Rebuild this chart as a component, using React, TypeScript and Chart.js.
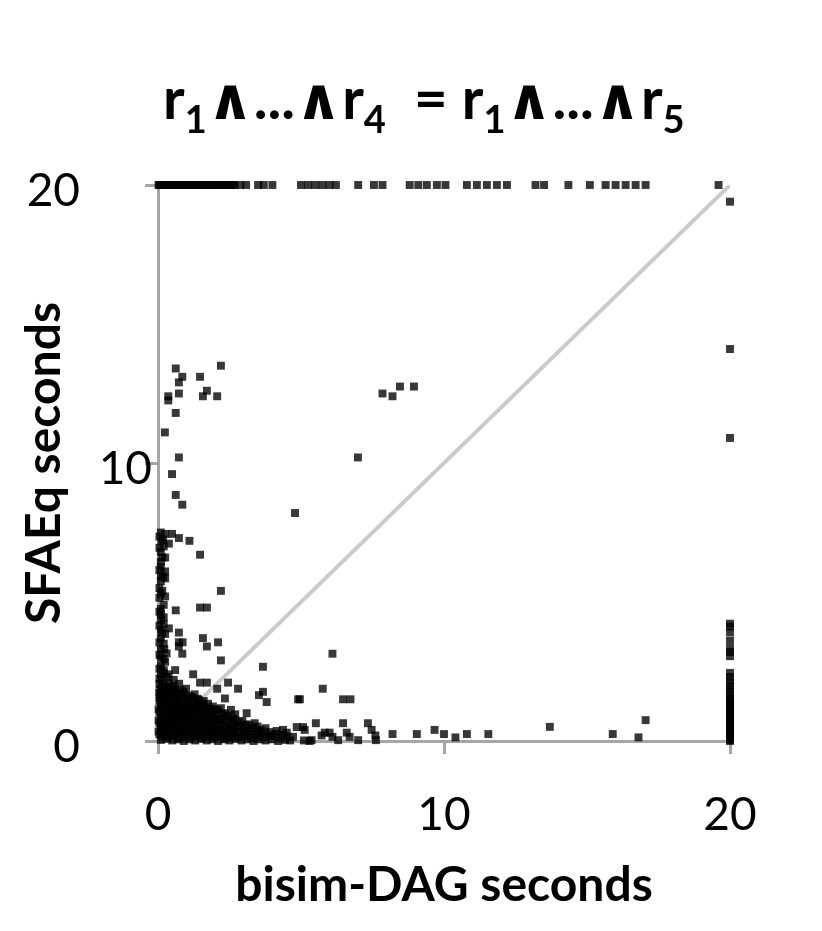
import { useEffect, useRef } from 'react';
import { Chart, registerables } from 'chart.js';

Chart.register(...registerables);

const FONT = "Lato, 'DejaVu Sans', sans-serif";

// Title with subscripts: [text, isSubscript]
const titleParts: [string, boolean][] = [
  ['r', false], ['1', true], ['∧...∧r', false], ['4', true],
  ['  = r', false], ['1', true], ['∧...∧r', false], ['5', true],
];

const xTitle = 'bisim-DAG seconds';
const yTitle = 'SFAEq seconds';
const xTicks = [0, 10, 20];
const yTicks = [0, 10, 20];
const diagonal: [number, number][] = [[0, 0], [20, 20]];

// SFAEq timed out (20 s): bisim-DAG seconds
const topRowX = [
  0.02, 0.1, 0.2, 0.3, 0.35, 0.45, 0.5, 0.6, 0.7, 0.8, 0.85, 0.95, 1.0, 1.1, 1.2, 1.25, 1.3,
  1.4, 1.5, 1.55, 1.65, 1.75, 1.8, 1.9, 2.0, 2.05, 2.15, 2.2, 2.3, 2.4, 2.45, 2.55, 2.62,
  0.05, 0.25, 0.55, 0.75, 1.05, 1.35, 1.6, 1.95, 2.25, 2.5, 2.68,
  2.88, 3.08, 3.5, 3.7, 4.0, 5.0, 5.25, 5.5, 5.75, 6.0, 6.22, 7.0, 7.55, 7.85,
  8.8, 9.1, 9.4, 9.75, 10.05, 10.8, 11.15, 11.5, 11.85, 12.2, 13.2, 13.5, 14.35,
  15.1, 15.65, 16.0, 16.35, 16.7, 17.05, 19.6,
];

// bisim-DAG timed out (20 s): SFAEq seconds
const rightColY = [
  0.0, 0.08, 0.2, 0.3, 0.42, 0.55, 0.65, 0.78, 0.9, 1.02, 1.15, 1.28, 1.4, 1.52, 1.62,
  1.75, 1.88, 2.0, 2.15, 2.3, 2.45, 3.05, 3.2, 3.32, 3.6, 3.9, 4.12, 4.22,
  0.04, 0.14, 0.25, 0.36, 0.48, 0.6, 0.72, 0.85, 0.96, 1.08, 1.22, 1.34, 1.46,
  10.9, 14.1, 19.4,
];

const upperLeft: [number, number][] = [
  [0.62, 13.4], [2.2, 13.5], [0.85, 13.1], [1.47, 13.1], [0.73, 12.9], [1.71, 12.6],
  [0.36, 12.4], [0.73, 12.5], [1.57, 12.4], [2.07, 12.4], [0.36, 12.25], [0.62, 11.8],
  [0.24, 11.1], [0.73, 10.2], [0.49, 9.6], [0.62, 8.85], [0.85, 8.5],
];

const middle: [number, number][] = [
  [4.79, 8.2], [6.99, 10.2], [7.85, 12.5], [8.46, 12.75], [8.95, 12.75], [8.2, 12.4],
  [6.1, 3.14], [5.76, 1.88], [6.47, 1.5], [6.73, 1.5], [4.96, 1.5], [4.9, 1.5],
  [3.67, 2.67], [3.67, 1.77], [3.53, 1.65], [3.8, 1.4], [3.1, 1.0], [2.34, 1.53],
];

const leftColumn: [number, number][] = [
  [0.24, 7.45], [0.49, 7.45], [0.73, 7.3], [1.1, 7.2], [0.38, 7.1], [0.1, 7.5], [0.12, 7.2],
  [0.2, 7.0], [0.1, 6.8], [0.25, 6.6], [0.1, 6.45], [1.47, 6.7], [0.1, 6.25], [0.25, 6.1],
  [0.1, 5.95], [0.1, 5.75], [0.25, 5.85], [0.1, 5.3], [0.25, 5.2], [2.2, 5.4],
  [0.1, 4.75], [0.62, 4.7], [1.47, 4.8], [1.71, 4.8], [0.1, 4.55], [0.1, 4.35], [0.2, 4.2],
  [0.38, 4.05], [0.1, 4.0], [0.73, 3.9], [0.25, 3.85], [0.1, 3.7], [0.73, 3.55], [0.86, 3.55],
  [1.57, 3.7], [2.1, 3.55], [1.71, 3.4], [0.73, 3.4], [0.2, 3.5], [0.1, 3.3], [0.85, 3.14],
  [0.3, 3.15], [0.1, 3.0], [2.2, 2.9], [0.25, 2.85], [0.1, 2.7], [0.2, 2.55], [0.6, 2.55],
  [0.37, 2.4], [1.23, 2.4], [0.1, 2.4], [0.3, 2.3], [0.55, 2.2], [0.15, 2.2],
  [1.47, 2.1], [1.71, 2.1], [2.45, 2.1], [2.07, 1.88], [2.8, 1.88], [0.98, 1.88],
  [0.05, 7.35], [0.18, 7.25], [0.05, 6.95], [0.15, 6.6], [0.05, 6.15], [0.18, 5.9], [0.05, 5.5],
  [0.15, 5.4], [0.05, 5.15], [0.2, 4.9], [0.05, 4.65], [0.2, 4.45], [0.05, 4.15], [0.15, 3.9],
  [0.05, 3.55], [0.22, 3.3], [0.05, 3.1], [0.2, 2.95], [0.05, 2.6], [0.2, 2.45], [0.05, 2.25],
];

const denseCorner: [number, number][] = [
  [0.05, 2.05], [0.22, 2.0], [0.38, 2.1], [0.55, 1.98], [0.74, 2.06],
  [0.08, 1.84], [0.24, 1.88], [0.42, 1.8], [0.6, 1.86], [0.8, 1.82],
  [0.12, 1.66], [0.3, 1.62], [0.5, 1.68], [0.68, 1.6], [0.88, 1.66], [1.08, 1.62], [1.28, 1.68],
  [0.05, 1.44], [0.26, 1.48], [0.46, 1.42], [0.64, 1.46], [0.84, 1.4], [1.04, 1.46], [1.22, 1.42],
  [1.42, 1.48], [1.6, 1.44],
  [0.1, 1.24], [0.3, 1.28], [0.5, 1.22], [0.7, 1.26], [0.9, 1.2], [1.1, 1.27], [1.3, 1.22],
  [1.5, 1.26], [1.72, 1.2], [1.92, 1.24],
  [0.05, 1.04], [0.25, 1.08], [0.45, 1.02], [0.66, 1.06], [0.86, 1.0], [1.05, 1.07], [1.25, 1.02],
  [1.45, 1.06], [1.66, 1.0], [1.88, 1.05], [2.1, 1.1], [2.32, 1.0], [2.55, 1.12],
  [0.1, 0.86], [0.3, 0.82], [0.5, 0.88], [0.7, 0.84], [0.9, 0.8], [1.1, 0.86], [1.3, 0.82],
  [1.5, 0.88], [1.7, 0.82], [1.92, 0.86], [2.14, 0.8], [2.38, 0.88], [2.62, 0.82],
  [0.05, 0.64], [0.26, 0.68], [0.46, 0.62], [0.66, 0.66], [0.86, 0.6], [1.06, 0.66], [1.26, 0.62],
  [1.46, 0.68], [1.66, 0.62], [1.86, 0.66], [2.06, 0.6], [2.3, 0.66], [2.56, 0.62], [2.82, 0.68],
  [3.1, 0.6], [3.38, 0.64],
  [0.1, 0.44], [0.3, 0.48], [0.5, 0.42], [0.7, 0.46], [0.9, 0.4], [1.1, 0.46], [1.3, 0.42],
  [1.5, 0.48], [1.7, 0.42], [1.9, 0.46], [2.12, 0.4], [2.32, 0.46], [2.52, 0.42], [2.76, 0.48],
  [3.0, 0.42], [3.28, 0.46], [3.55, 0.4], [3.76, 0.46],
  [0.05, 0.24], [0.25, 0.28], [0.45, 0.22], [0.65, 0.26], [0.85, 0.2], [1.05, 0.26], [1.25, 0.22],
  [1.45, 0.28], [1.65, 0.22], [1.85, 0.26], [2.05, 0.2], [2.25, 0.26], [2.45, 0.22], [2.66, 0.28],
  [2.9, 0.22], [3.14, 0.26], [3.4, 0.22], [3.62, 0.28], [3.88, 0.2], [4.1, 0.26], [4.36, 0.22],
  [0.1, 0.04], [0.3, 0.08], [0.5, 0.02], [0.7, 0.06], [0.9, 0.0], [1.1, 0.06], [1.3, 0.02],
  [1.5, 0.08], [1.7, 0.02], [1.9, 0.06], [2.1, 0.0], [2.3, 0.06], [2.5, 0.02], [2.7, 0.08],
  [2.92, 0.02], [3.12, 0.06], [3.34, 0.0], [3.52, 0.06], [3.76, 0.02], [3.98, 0.06], [4.2, 0.0],
  [4.44, 0.04], [4.62, 0.02],
];

const denseCornerOverlap: [number, number][] = [
  [0.15, 1.95], [0.32, 1.92], [0.48, 1.96],
  [0.04, 1.74], [0.18, 1.76], [0.36, 1.72], [0.52, 1.78], [0.7, 1.74], [0.9, 1.76],
  [0.06, 1.56], [0.2, 1.54], [0.4, 1.58], [0.58, 1.52], [0.78, 1.56], [0.98, 1.54], [1.18, 1.58],
  [1.38, 1.52],
  [0.15, 1.34], [0.35, 1.36], [0.55, 1.32], [0.75, 1.38], [0.95, 1.34], [1.15, 1.36], [1.35, 1.32],
  [1.55, 1.36], [1.75, 1.34],
  [0.02, 1.14], [0.2, 1.16], [0.4, 1.12], [0.6, 1.18], [0.8, 1.14], [1.0, 1.16], [1.2, 1.12],
  [1.4, 1.18], [1.6, 1.14], [1.8, 1.16], [2.0, 1.14], [2.2, 1.18],
  [0.15, 0.96], [0.35, 0.94], [0.55, 0.98], [0.75, 0.92], [0.95, 0.96], [1.15, 0.94], [1.35, 0.98],
  [1.55, 0.92], [1.78, 0.96], [2.0, 0.94], [2.22, 0.98], [2.45, 0.92], [2.7, 0.96],
  [0.02, 0.74], [0.2, 0.76], [0.4, 0.72], [0.6, 0.78], [0.8, 0.74], [1.0, 0.76], [1.2, 0.72],
  [1.4, 0.78], [1.6, 0.74], [1.8, 0.76], [2.0, 0.72], [2.22, 0.78], [2.46, 0.74], [2.7, 0.76],
  [2.95, 0.72],
  [0.15, 0.56], [0.35, 0.54], [0.55, 0.58], [0.75, 0.52], [0.95, 0.56], [1.15, 0.54], [1.35, 0.58],
  [1.55, 0.52], [1.75, 0.56], [1.95, 0.54], [2.18, 0.58], [2.42, 0.52], [2.66, 0.56], [2.9, 0.54],
  [3.2, 0.56], [3.48, 0.52],
  [0.02, 0.34], [0.2, 0.36], [0.4, 0.32], [0.6, 0.38], [0.8, 0.34], [1.0, 0.36], [1.2, 0.32],
  [1.4, 0.38], [1.6, 0.34], [1.8, 0.36], [2.0, 0.32], [2.2, 0.38], [2.4, 0.34], [2.62, 0.36],
  [2.86, 0.32], [3.1, 0.38], [3.36, 0.34], [3.62, 0.36], [3.9, 0.32], [4.15, 0.36],
  [0.15, 0.16], [0.35, 0.14], [0.55, 0.18], [0.75, 0.12], [0.95, 0.16], [1.15, 0.14], [1.35, 0.18],
  [1.55, 0.12], [1.75, 0.16], [1.95, 0.14], [2.15, 0.18], [2.38, 0.12], [2.6, 0.16], [2.82, 0.14],
  [3.04, 0.18], [3.26, 0.12], [3.48, 0.16], [3.7, 0.14], [3.95, 0.18], [4.25, 0.12], [4.52, 0.16],
];

const bottomBand: [number, number][] = [
  [4.37, 0.4], [4.5, 0.3], [4.72, 0.15], [4.85, 0.5], [5.07, 0.5], [5.13, 0.4], [5.37, 0.03],
  [5.1, 0.02], [5.3, 0.0], [5.52, 0.64], [5.72, 0.2], [5.83, 0.3], [6.0, 0.3], [6.1, 0.15],
  [6.3, 0.03], [6.47, 0.64], [6.6, 0.3], [6.7, 0.15], [7.0, 0.03], [7.34, 0.64], [7.47, 0.4],
  [7.6, 0.2], [7.62, 0.03], [8.2, 0.25], [9.05, 0.25], [9.67, 0.4], [10.0, 0.25], [10.4, 0.13],
  [10.8, 0.25], [11.55, 0.25], [13.7, 0.51], [15.9, 0.25], [16.8, 0.13], [17.05, 0.75],
];

const pointColor = 'rgba(0,0,0,0.78)';
const axisColor = '#a6a6a6';

export default function App() {
  const ref = useRef<HTMLCanvasElement | null>(null);

  useEffect(() => {
    const canvas = ref.current;
    if (!canvas) return;

    const points = [
      ...topRowX.map((x) => ({ x, y: 20 })),
      ...rightColY.map((y) => ({ x: 20, y })),
      ...[...upperLeft, ...middle, ...leftColumn, ...denseCorner, ...denseCornerOverlap, ...bottomBand]
        .map(([x, y]) => ({ x, y })),
    ];

    const titlePlugin = {
      id: 'subTitle',
      afterDraw(chart: any) {
        const ctx = chart.ctx;
        ctx.save();
        ctx.fillStyle = '#000';
        ctx.textBaseline = 'alphabetic';
        ctx.textAlign = 'left';
        let x = 163;
        const base = 119;
        for (const [t, sub] of titleParts) {
          ctx.font = sub ? `bold 38px ${FONT}` : `bold 58px ${FONT}`;
          ctx.fillText(t, x, sub ? base + 14 : base);
          x += ctx.measureText(t).width;
        }
        // y tick labels
        const ys = chart.scales.y;
        ctx.font = `46px ${FONT}`;
        ctx.textAlign = 'right';
        ctx.textBaseline = 'middle';
        for (const v of yTicks) {
          const right = v === 10 ? 152 : 80;
          ctx.fillText(String(v), right, ys.getPixelForValue(v) + 6);
        }
        ctx.restore();
      },
    };

    const chart = new Chart(canvas, {
      type: 'scatter',
      data: {
        datasets: [
          {
            data: points,
            pointStyle: 'rect',
            pointRadius: 5.6,
            pointBorderWidth: 0,
            backgroundColor: pointColor,
            borderColor: pointColor,
            clip: false,
            order: 0,
          } as any,
          {
            data: diagonal.map(([x, y]) => ({ x, y })),
            showLine: true,
            borderColor: '#cbcbcb',
            borderWidth: 4,
            pointRadius: 0,
            fill: false,
            order: 1,
          } as any,
        ],
      },
      options: {
        responsive: false,
        animation: false,
        devicePixelRatio: 1,
        layout: { padding: { top: 185, right: 92, left: 0, bottom: 0 } },
        plugins: { legend: { display: false }, tooltip: { enabled: false }, title: { display: false } },
        scales: {
          x: {
            type: 'linear',
            min: 0,
            max: 20,
            afterFit: (s: any) => { s.height = 190; },
            afterBuildTicks: (s: any) => { s.ticks = xTicks.map((v) => ({ value: v })); },
            ticks: { font: { family: FONT, size: 46 }, color: '#000', padding: 34, maxRotation: 0 },
            grid: { display: true, drawOnChartArea: false, drawTicks: true, tickLength: 13, color: axisColor, lineWidth: 3 },
            border: { display: true, color: axisColor, width: 3 },
            title: { display: true, text: xTitle, color: '#000', font: { family: FONT, size: 48, weight: 'bold' }, padding: { top: 0, bottom: 17 } },
          },
          y: {
            type: 'linear',
            min: 0,
            max: 20,
            afterFit: (s: any) => { s.width = 158; },
            afterBuildTicks: (s: any) => { s.ticks = yTicks.map((v) => ({ value: v })); },
            ticks: { display: false },
            grid: { display: true, drawOnChartArea: false, drawTicks: true, tickLength: 13, color: axisColor, lineWidth: 3 },
            border: { display: true, color: axisColor, width: 3 },
            title: { display: true, text: yTitle, color: '#000', font: { family: FONT, size: 48, weight: 'bold' }, padding: { top: 16, bottom: 0 } },
          },
        },
      } as any,
      plugins: [titlePlugin],
    });

    return () => chart.destroy();
  }, []);

  return (
    <div style={{ position: 'absolute', left: 0, top: 0, width: 822, height: 931, background: '#fff' }}>
      <canvas ref={ref} width={822} height={931} style={{ width: 822, height: 931, display: 'block' }} />
    </div>
  );
}
